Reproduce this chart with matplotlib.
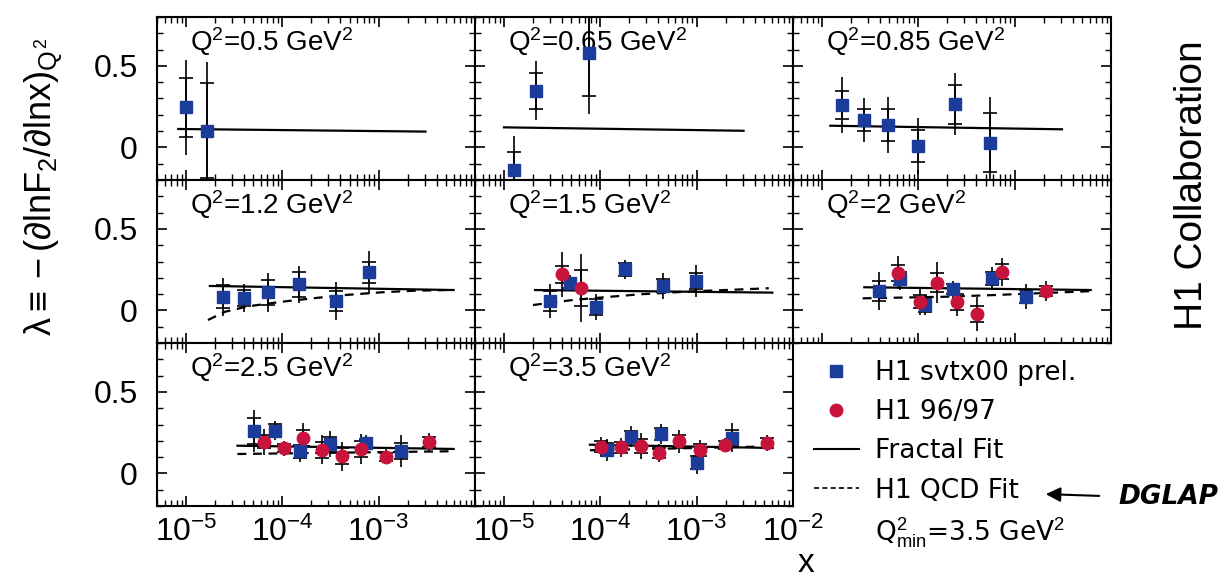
import numpy as np
import matplotlib.pyplot as plt
from matplotlib.lines import Line2D
from matplotlib.ticker import LogLocator, MultipleLocator, NullFormatter

plt.rcParams['font.family'] = ['Liberation Sans', 'DejaVu Sans']
plt.rcParams['mathtext.fontset'] = 'custom'
plt.rcParams['mathtext.rm'] = 'Liberation Sans'
plt.rcParams['mathtext.it'] = 'Liberation Sans'
plt.rcParams['mathtext.bf'] = 'Liberation Sans:bold'

# panel labels (row by row, the last cell holds the legend)
q2_labels = ['Q$^2$=0.5 GeV$^2$', 'Q$^2$=0.65 GeV$^2$', 'Q$^2$=0.85 GeV$^2$',
             'Q$^2$=1.2 GeV$^2$', 'Q$^2$=1.5 GeV$^2$', 'Q$^2$=2 GeV$^2$',
             'Q$^2$=2.5 GeV$^2$', 'Q$^2$=3.5 GeV$^2$']

# H1 svtx00 prel. (blue squares)
blue_x = [[1.0e-5, 1.67e-5],
          [1.26e-5, 2.14e-5, 7.66e-5],
          [1.62e-5, 2.70e-5, 4.83e-5, 1.0e-4, 2.39e-4, 5.58e-4],
          [2.43e-5, 4.02e-5, 7.15e-5, 1.49e-4, 3.63e-4, 7.87e-4],
          [3.0e-5, 4.86e-5, 9.0e-5, 1.82e-4, 4.42e-4, 9.93e-4],
          [3.88e-5, 6.5e-5, 1.16e-4, 2.3e-4, 5.77e-4, 1.3e-3],
          [5.1e-5, 8.4e-5, 1.53e-4, 3.14e-4, 7.37e-4, 1.72e-3],
          [1.16e-4, 2.08e-4, 4.25e-4, 1.02e-3, 2.32e-3]]
blue_y = [[0.246, 0.103],
          [-0.139, 0.348, 0.577],
          [0.260, 0.168, 0.137, 0.009, 0.264, 0.029],
          [0.084, 0.078, 0.111, 0.160, 0.058, 0.234],
          [0.058, 0.166, 0.023, 0.252, 0.152, 0.180],
          [0.119, 0.193, 0.033, 0.129, 0.197, 0.084],
          [0.262, 0.262, 0.137, 0.178, 0.184, 0.137],
          [0.144, 0.225, 0.242, 0.066, 0.219]]
blue_stat = [[0.18, 0.29],
             [0.11, 0.11, 0.26],
             [0.088, 0.066, 0.10, 0.10, 0.118, 0.18],
             [0.07, 0.05, 0.075, 0.078, 0.06, 0.066],
             [0.06, 0.03, 0.05, 0.04, 0.04, 0.05],
             [0.06, 0.04, 0.04, 0.03, 0.04, 0.04],
             [0.08, 0.04, 0.04, 0.045, 0.03, 0.05],
             [0.04, 0.035, 0.035, 0.04, 0.05]]
blue_tot = [[0.29, 0.42],
            [0.21, 0.18, 0.37],
            [0.17, 0.133, 0.17, 0.17, 0.19, 0.28],
            [0.117, 0.087, 0.12, 0.113, 0.117, 0.133],
            [0.105, 0.05, 0.08, 0.06, 0.08, 0.10],
            [0.117, 0.07, 0.06, 0.05, 0.07, 0.075],
            [0.13, 0.06, 0.07, 0.08, 0.05, 0.10],
            [0.07, 0.065, 0.06, 0.07, 0.09]]

# H1 96/97 (red circles)
red_x = [[], [], [], [],
         [4.0e-5, 6.35e-5],
         [6.16e-5, 1.03e-4, 1.58e-4, 2.53e-4, 4.04e-4, 7.34e-4, 2.1e-3],
         [6.5e-5, 1.05e-4, 1.65e-4, 2.61e-4, 4.2e-4, 6.55e-4, 1.19e-3, 3.37e-3],
         [1.02e-4, 1.64e-4, 2.62e-4, 4.08e-4, 6.62e-4, 1.08e-3, 1.97e-3, 5.42e-3]]
red_y = [[], [], [], [],
         [0.221, 0.136],
         [0.231, 0.053, 0.170, 0.053, -0.022, 0.237, 0.119],
         [0.195, 0.154, 0.217, 0.145, 0.105, 0.150, 0.102, 0.191],
         [0.164, 0.160, 0.168, 0.123, 0.197, 0.144, 0.176, 0.186]]
red_stat = [[], [], [], [],
            [0.05, 0.11],
            [0.05, 0.04, 0.06, 0.05, 0.05, 0.045, 0.03],
            [0.04, 0.025, 0.05, 0.05, 0.05, 0.05, 0.025, 0.03],
            [0.035, 0.035, 0.045, 0.03, 0.04, 0.035, 0.025, 0.03]]
red_tot = [[], [], [], [],
           [0.14, 0.21],
           [0.10, 0.08, 0.125, 0.09, 0.105, 0.085, 0.06],
           [0.08, 0.045, 0.09, 0.09, 0.09, 0.09, 0.045, 0.055],
           [0.06, 0.06, 0.08, 0.055, 0.07, 0.06, 0.04, 0.05]]

# Fractal fit (solid)
frac_x = [[8.3e-6, 3.06e-3], [1.0e-5, 3.07e-3], [1.22e-5, 3.1e-3],
          [1.77e-5, 6.0e-3], [2.1e-5, 6.1e-3], [2.75e-5, 6.15e-3],
          [3.42e-5, 6.0e-3], [7.8e-5, 6.1e-3]]
frac_y = [[0.113, 0.097], [0.123, 0.102], [0.133, 0.111],
          [0.150, 0.125], [0.125, 0.109], [0.142, 0.125],
          [0.170, 0.150], [0.176, 0.156]]

# H1 QCD fit (dashed)
qcd_x = [[], [], [],
         [1.69e-5, 2.55e-5, 4.42e-5, 9.8e-5, 2.21e-4, 4.87e-4, 1.07e-3, 2.43e-3, 5.36e-3],
         [2.0e-5, 5.2e-5, 1.16e-4, 2.62e-4, 5.86e-4, 1.31e-3, 2.96e-3, 5.6e-3],
         [2.64e-5, 1.97e-4, 6.0e-4, 6.15e-3],
         [3.42e-5, 6.0e-3],
         [7.8e-5, 6.1e-3]]
qcd_y = [[], [], [],
         [-0.059, -0.008, 0.025, 0.053, 0.076, 0.096, 0.111, 0.121, 0.125],
         [0.033, 0.064, 0.082, 0.099, 0.111, 0.121, 0.129, 0.136],
         [0.074, 0.084, 0.094, 0.118],
         [0.119, 0.136],
         [0.142, 0.166]]

xtick_vals = [1e-5, 1e-4, 1e-3, 1e-2]
xtick_labels_left = ['$10^{-5}$', '$10^{-4}$', '$10^{-3}$', '']
xtick_labels_mid = ['$10^{-5}$', '$10^{-4}$', '$10^{-3}$', '$10^{-2}$']
ytick_vals = [0, 0.5]
ytick_labels = ['0', '0.5']

blue = '#1c3c9c'
red = '#c8143c'

W, H = 1224, 585
fig = plt.figure(figsize=(W / 100, H / 100), dpi=100)

left_px, top_px, w_px, h_px = 157, 17, 318, 163

for i in range(8):
    row, col = divmod(i, 3)
    ax = fig.add_axes([(left_px + col * w_px) / W,
                       1 - (top_px + (row + 1) * h_px) / H,
                       w_px / W, h_px / H])
    ax.set_xscale('log')
    ax.set_xlim(5e-6, 1e-2)
    ax.set_ylim(-0.2, 0.8)

    # fits
    ax.plot(frac_x[i], frac_y[i], color='k', lw=1.6, zorder=2)
    if qcd_x[i]:
        ax.plot(qcd_x[i], qcd_y[i], color='k', lw=1.6, ls=(0, (4, 3)), zorder=2)

    # data: total error as line, stat error marked with small crossbar
    for xs, ys, st, tt, c, m, ms in [(blue_x[i], blue_y[i], blue_stat[i], blue_tot[i], blue, 's', 8),
                                     (red_x[i], red_y[i], red_stat[i], red_tot[i], red, 'o', 9)]:
        if not xs:
            continue
        ax.errorbar(xs, ys, yerr=tt, fmt='none', ecolor='k', elinewidth=1.2, capsize=0, zorder=3)
        ax.errorbar(xs, ys, yerr=st, fmt='none', ecolor='k', elinewidth=1.2, capsize=5,
                    capthick=1.2, zorder=3)
        ax.plot(xs, ys, ls='none', marker=m, ms=ms, color=c, mec=c, zorder=4)

    ax.text(0.105, 0.85, q2_labels[i], transform=ax.transAxes, fontsize=20,
            ha='left', va='center')

    ax.xaxis.set_minor_locator(LogLocator(base=10, subs=np.arange(2, 10), numticks=20))
    ax.xaxis.set_minor_formatter(NullFormatter())
    ax.set_xticks(xtick_vals)
    if row == 2 and col == 0:
        ax.set_xticklabels(xtick_labels_left)
    elif row == 2 and col == 1:
        ax.set_xticklabels(xtick_labels_mid)
    else:
        ax.set_xticklabels([''] * 4)
    ax.set_xlim(5e-6, 1e-2)

    ax.set_yticks(ytick_vals)
    ax.yaxis.set_minor_locator(MultipleLocator(0.1))
    if col == 0:
        ax.set_yticklabels(ytick_labels)
    else:
        ax.set_yticklabels([''] * 2)

    ax.tick_params(which='both', direction='in', top=True, right=True, labelsize=23)
    ax.tick_params(axis='y', pad=14)
    ax.tick_params(axis='x', pad=8)
    ax.tick_params(which='major', length=7, width=1.2)
    ax.tick_params(which='minor', length=4, width=1.0)
    for s in ax.spines.values():
        s.set_linewidth(1.5)

# axis titles
fig.text(44 / W, 1 - 187 / H, r'$\lambda\equiv-(\partial\mathrm{ln}F_2/\partial\mathrm{ln}x)_{Q^2}$',
         rotation=90, ha='center', va='center', fontsize=26)
fig.text(806 / W, 1 - 563 / H, 'x', ha='center', va='center', fontsize=24)
fig.text(1192 / W, 1 - 185 / H, 'H1 Collaboration', rotation=90, ha='center', va='center',
         fontsize=28)

# legend in the empty cell
handles = [Line2D([], [], ls='none', marker='s', ms=8, color=blue),
           Line2D([], [], ls='none', marker='o', ms=9, color=red),
           Line2D([], [], color='k', lw=1.5),
           Line2D([], [], color='k', lw=1.2, ls=(0, (3, 2))),
           Line2D([], [], ls='none')]
labels = ['H1 svtx00 prel.', 'H1 96/97', 'Fractal Fit', 'H1 QCD Fit',
          'Q$^2_{min}$=3.5 GeV$^2$']
fig.legend(handles, labels, loc='upper left', bbox_to_anchor=(814 / W, 1 - 360 / H),
           frameon=False, prop={'family': 'DejaVu Sans', 'size': 19},
           handlelength=1.7, handletextpad=0.6, labelspacing=0.5, borderpad=0,
           borderaxespad=0)

# handwritten note
fig.add_artist(plt.Annotation('', xy=(1043 / W, 1 - 494 / H), xytext=(1102 / W, 1 - 496 / H),
                              xycoords='figure fraction', textcoords='figure fraction',
                              arrowprops=dict(arrowstyle='-|>', color='k', lw=1.5,
                                              mutation_scale=22)))
fig.text(1168 / W, 1 - 497 / H, 'DGLAP', ha='center', va='center', fontsize=19,
         style='italic', fontweight='bold', family='DejaVu Sans')

fig.savefig('out.png', dpi=100)
